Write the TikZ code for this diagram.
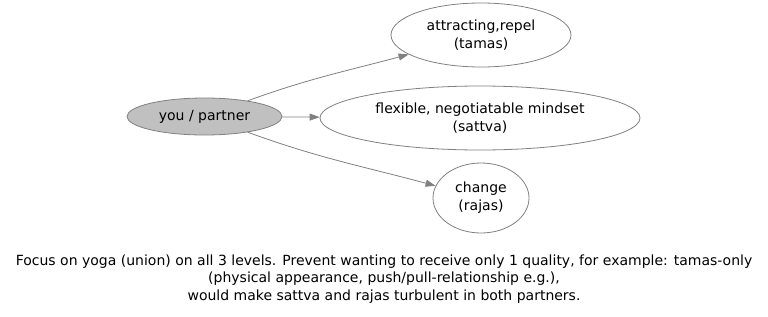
\documentclass[tikz,border=0pt]{standalone}
\usepackage{fontspec}
\setmainfont{DejaVu Sans}
\usetikzlibrary{shapes.geometric,arrows.meta}
\definecolor{edgegray}{HTML}{808080}
\definecolor{nodefill}{HTML}{C0C0C0}
\tikzset{
  x=1pt, y=-1pt,
  oval/.style={ellipse, draw=edgegray, line width=0.8pt, inner sep=0pt, align=center,
               font=\fontsize{14}{18}\selectfont},
  link/.style={draw=edgegray, line width=0.8pt,
               -{Triangle[length=10pt,width=7pt,fill=edgegray]}},
  note/.style={align=center, font=\fontsize{14}{17.5}\selectfont}
}
\begin{document}
\begin{tikzpicture}
  \useasboundingbox (0,0) rectangle (768,316);
  \node[oval, fill=nodefill, minimum width=155pt, minimum height=37pt] (you) at (204.5,116.5) {you / partner};
  \node[oval, minimum width=180pt, minimum height=64pt] (att) at (481,35) {attracting,repel\\(tamas)};
  \node[oval, minimum width=320pt, minimum height=64pt] (flex) at (480,118) {flexible, negotiatable mindset\\(sattva)};
  \node[oval, minimum width=96pt, minimum height=70pt] (chg) at (481,198) {change\\(rajas)};
  \draw[link] (you) to[out=20, in=195] (att);
  \draw[link] (you) -- (flex);
  \draw[link] (you) to[out=-20, in=165] (chg);
  \node[note] (cap) at (384,279) {Focus on yoga (union) on all 3 levels. Prevent wanting to receive only 1 quality, for example: tamas-only\\(physical appearance, push/pull-relationship e.g.),\\would make sattva and rajas turbulent in both partners.};
\end{tikzpicture}
\end{document}
